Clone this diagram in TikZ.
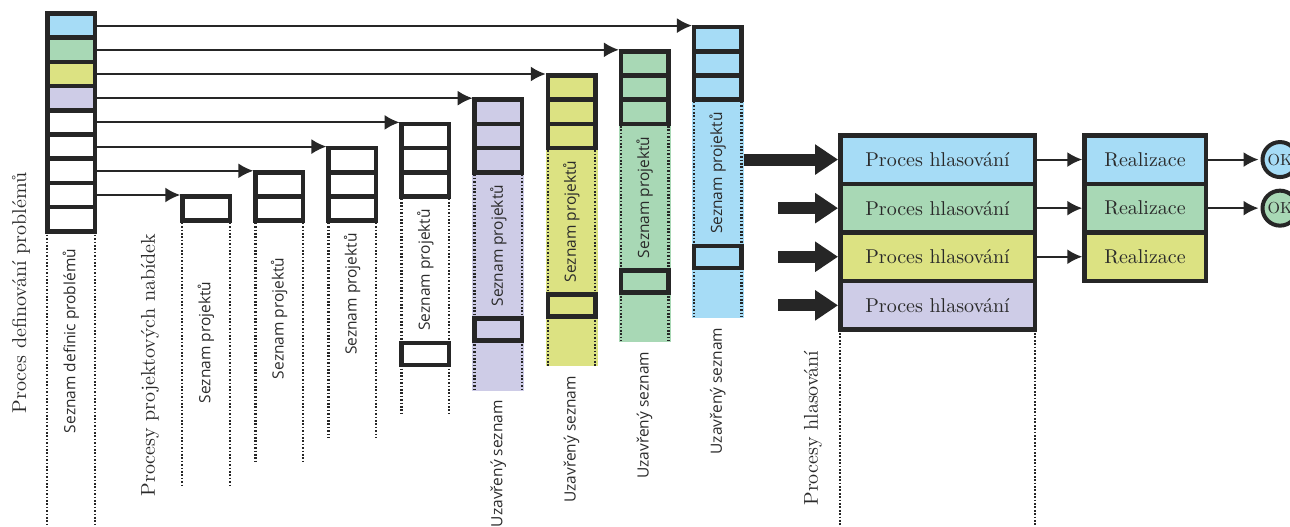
\documentclass[tikz,border=0pt]{standalone}
\usepackage{fontspec}
\usepackage{graphicx}
\newfontfamily\labelfont{Open Sans}
\usetikzlibrary{arrows.meta,calc}
\definecolor{cblue}{HTML}{A6DCF6}
\definecolor{cgreen}{HTML}{A8D8B5}
\definecolor{cyellow}{HTML}{DCE282}
\definecolor{cviolet}{HTML}{CECCE7}
\definecolor{cline}{HTML}{262626}
\definecolor{ctext}{HTML}{2A2A2A}
\newcommand\sertext[2]{\scalebox{#1}{\fontsize{10pt}{12pt}\selectfont #2}}
\begin{document}
\begin{tikzpicture}[x=1pt,y=-1pt,
  cellbox/.style={rectangle,draw=cline,line width=4.5pt,minimum width=47.5pt,inner sep=0pt,outer sep=0pt},
  dotline/.style={draw=cline,line width=2.4pt,dash pattern=on 1.7pt off 1.7pt},
  thinarrow/.style={draw=cline,line width=2pt,-{Latex[length=15pt,width=15pt]},shorten >=2pt},
  thickarrow/.style={draw=cline,line width=12pt,-{Triangle[length=23pt,width=29pt]},shorten >=2.2pt},
  biglabel/.style={rotate=90,text=ctext,inner sep=0pt},
  smalllabel/.style={rotate=90,text=ctext,inner sep=0pt,font=\labelfont\fontsize{15.5pt}{18pt}\selectfont},
  boxtext/.style={text=ctext},
  okcircle/.style={circle,draw=cline,line width=4pt,minimum size=35pt,inner sep=0pt,text=ctext}]
\useasboundingbox (0,0) rectangle (1290,527);

% left column: list of problem definitions
\foreach \k/\c in {1/cblue,2/cgreen,3/cyellow,4/cviolet,5/white,6/white,7/white,8/white,9/white}{
  \node[cellbox,minimum height=24.2pt,fill=\c] (L\k) at (71,{13.5+24.2*(\k-0.5)}) {};
}
\draw[dotline] (L9.south west) -- ++(0,293);
\draw[dotline] (L9.south east) -- ++(0,293);
\node[biglabel] (lblA) at (21,293) {\sertext{2}{Proces definování problémů}};
\node[smalllabel] (lblB) at (71,341) {Seznam definic problémů};
\node[biglabel] (lblC) at (150,365) {\sertext{2}{Procesy projektových nabídek}};

% project-list columns
\foreach \i/\n/\c in {0/1/white,1/2/white,2/3/white,3/3/white,4/3/cviolet,5/3/cyellow,6/3/cgreen,7/3/cblue}{
  \pgfmathsetmacro\cx{206+73.1*\i}
  \pgfmathsetmacro\T{196.5-24.2*\i}
  \ifnum\i>3
    \node[rectangle,fill=\c,inner sep=0pt,minimum width=52pt,minimum height=218.2pt] (F\i) at (\cx,{\T+24.2*\n+109.1}) {};
  \fi
  \coordinate (DL\i) at ({\cx-23.75},{\T+24.2*\n+2});
  \coordinate (DR\i) at ({\cx+23.75},{\T+24.2*\n+2});
  \draw[dotline] (DL\i) -- ++(0,{290-24.2*\n-2});
  \draw[dotline] (DR\i) -- ++(0,{290-24.2*\n-2});
  \foreach \j in {1,...,\n}{
    \node[cellbox,minimum height=24.2pt,fill=\c] (C\i-\j) at (\cx,{\T+24.2*(\j-0.5)}) {};
  }
  \ifnum\i>2
    \node[cellbox,minimum height=22pt,fill=\c] (C\i-low) at (\cx,{\T+230}) {};
  \fi
  \node[smalllabel] (SP\i) at (\cx,{\T+146}) {Seznam projektů};
  \ifnum\i>3
    \node[smalllabel] (US\i) at (\cx,{\T+364}) {Uzavřený seznam};
  \fi
}

% arrows from problem definitions to columns
\foreach \k in {1,...,8}{
  \pgfmathtruncatemacro\i{8-\k}
  \draw[thinarrow] (L\k.east) -- (L\k.east -| C\i-1.west);
}

% voting processes
\foreach \r/\c in {1/cblue,2/cgreen,3/cyellow,4/cviolet}{
  \node[cellbox,minimum width=194.5pt,minimum height=48.6pt,fill=\c,boxtext] (P\r) at (937.5,{135.25+48.6*(\r-0.5)}) {\sertext{2}{Proces hlasování}};
}
\draw[dotline] (P4.south west) -- ++(0,200);
\draw[dotline] (P4.south east) -- ++(0,200);
\node[biglabel] (lblD) at (813,428) {\sertext{2}{Procesy hlasování}};

% realisation
\foreach \r/\c in {1/cblue,2/cgreen,3/cyellow}{
  \node[cellbox,minimum width=121.5pt,minimum height=48.6pt,fill=\c,boxtext] (R\r) at (1145,{135.25+48.6*(\r-0.5)}) {\sertext{2}{Realizace}};
}
\node[okcircle,fill=cblue] (OK1) at (1280,{135.25+48.6*0.5}) {\sertext{1.6}{OK}};
\node[okcircle,fill=cgreen] (OK2) at (1280,{135.25+48.6*1.5}) {\sertext{1.6}{OK}};

% thick arrows into voting
\draw[thickarrow] (F7.east |- P1.west) -- (P1.west);
\foreach \r in {2,3,4}{
  \coordinate (S\r) at ($(P\r.west)+(-62,0)$);
  \draw[thickarrow] (S\r) -- (P\r.west);
}
% thin arrows
\foreach \r in {1,2,3}{
  \draw[thinarrow] (P\r.east) -- (R\r.west);
}
\draw[thinarrow] (R1.east) -- (OK1.west);
\draw[thinarrow] (R2.east) -- (OK2.west);
\end{tikzpicture}
\end{document}
